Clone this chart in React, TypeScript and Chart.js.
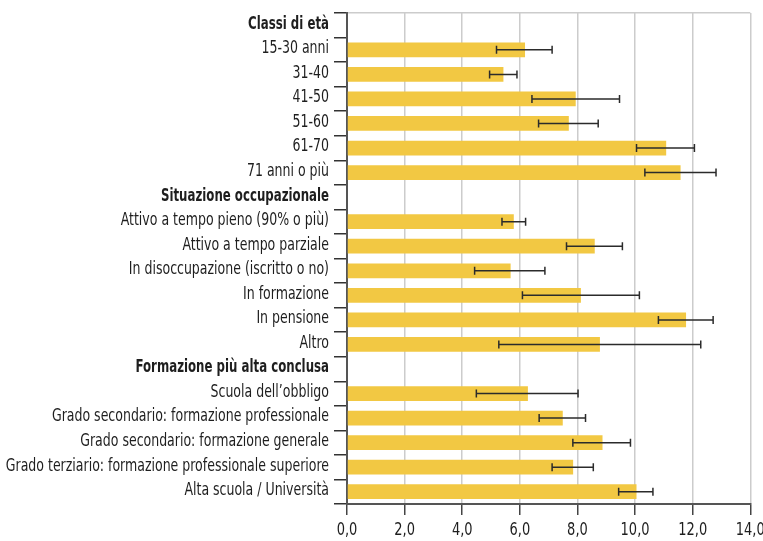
import React, { useEffect, useRef } from "react";
import { Chart, registerables } from "chart.js";

Chart.register(...registerables);

const categories: string[] = [
  "Classi di età",
  "15-30 anni",
  "31-40",
  "41-50",
  "51-60",
  "61-70",
  "71 anni o più",
  "Situazione occupazionale",
  "Attivo a tempo pieno (90% o più)",
  "Attivo a tempo parziale",
  "In disoccupazione (iscritto o no)",
  "In formazione",
  "In pensione",
  "Altro",
  "Formazione più alta conclusa",
  "Scuola dell’obbligo",
  "Grado secondario: formazione professionale",
  "Grado secondario: formazione generale",
  "Grado terziario: formazione professionale superiore",
  "Alta scuola / Università",
];

const headers: string[] = [
  "Classi di età",
  "Situazione occupazionale",
  "Formazione più alta conclusa",
];

const values: (number | null)[] = [
  null, 6.18, 5.43, 7.94, 7.70, 11.08, 11.58,
  null, 5.79, 8.60, 5.68, 8.12, 11.77, 8.78,
  null, 6.28, 7.49, 8.87, 7.85, 10.05,
];

const errLow: (number | null)[] = [
  null, 5.19, 4.95, 6.42, 6.65, 10.05, 10.34,
  null, 5.38, 7.62, 4.43, 6.09, 10.81, 5.27,
  null, 4.49, 6.67, 7.84, 7.12, 9.43,
];

const errHigh: (number | null)[] = [
  null, 7.12, 5.90, 9.46, 8.72, 12.06, 12.81,
  null, 6.20, 9.56, 6.87, 10.15, 12.71, 12.28,
  null, 8.02, 8.28, 9.84, 8.55, 10.62,
];

const xTicks: number[] = [0, 2, 4, 6, 8, 10, 12, 14];

const FONT = "'Liberation Sans Narrow', 'DejaVu Sans Condensed', 'Liberation Sans', sans-serif";

const fmt = (v: number) => v.toFixed(1).replace(".", ",");

const errorBarPlugin = {
  id: "errorBars",
  afterDatasetsDraw(chart: any) {
    const ctx = chart.ctx;
    const xs = chart.scales.x;
    const meta = chart.getDatasetMeta(0);
    ctx.save();
    ctx.strokeStyle = "#2b2b2b";
    ctx.lineWidth = 1.5;
    meta.data.forEach((bar: any, i: number) => {
      const lo = errLow[i];
      const hi = errHigh[i];
      if (lo == null || hi == null) return;
      const y = bar.y;
      const x1 = xs.getPixelForValue(lo);
      const x2 = xs.getPixelForValue(hi);
      const cap = 4;
      ctx.beginPath();
      ctx.moveTo(x1, y);
      ctx.lineTo(x2, y);
      ctx.moveTo(x1, y - cap);
      ctx.lineTo(x1, y + cap);
      ctx.moveTo(x2, y - cap);
      ctx.lineTo(x2, y + cap);
      ctx.stroke();
    });
    ctx.restore();
  },
};

// Condensed labels: the narrow face of the original is not installed,
// so the axis texts are drawn with a horizontal squeeze.
const narrowLabelsPlugin = {
  id: "narrowLabels",
  afterDraw(chart: any) {
    const ctx = chart.ctx;
    const ys = chart.scales.y;
    const xs = chart.scales.x;
    const area = chart.chartArea;
    ctx.save();
    ctx.fillStyle = "#1e1e1e";
    ctx.textBaseline = "middle";
    ctx.textAlign = "right";
    categories.forEach((label, i) => {
      const bold = headers.includes(label);
      ctx.font = `${bold ? "bold " : ""}17px ${FONT}`;
      const y = ys.getPixelForValue(i) - 1;
      ctx.save();
      ctx.translate(area.left - 18, y);
      ctx.scale(bold ? 0.77 : 0.82, 1);
      ctx.fillText(label, 0, 0);
      ctx.restore();
    });
    ctx.textAlign = "center";
    ctx.font = `17px ${FONT}`;
    xTicks.forEach((v) => {
      const x = xs.getPixelForValue(v);
      ctx.save();
      ctx.translate(x, 531);
      ctx.scale(0.85, 1);
      ctx.fillText(fmt(v), 0, 0);
      ctx.restore();
    });
    ctx.restore();
  },
};

export default function App() {
  const ref = useRef<HTMLCanvasElement | null>(null);

  useEffect(() => {
    document.body.style.margin = "0";
    if (!ref.current) return;
    const chart = new Chart(ref.current, {
      type: "bar",
      data: {
        labels: categories,
        datasets: [
          {
            data: values as any,
            backgroundColor: "#F2C843",
            borderWidth: 0,
            barPercentage: 0.6,
            categoryPercentage: 1.0,
          },
        ],
      },
      options: {
        indexAxis: "y",
        animation: false,
        responsive: false,
        maintainAspectRatio: false,
        layout: { padding: { top: 13, left: 0, right: 0, bottom: 0 } },
        plugins: {
          legend: { display: false },
          tooltip: { enabled: false },
        },
        scales: {
          x: {
            min: 0,
            max: 14,
            afterBuildTicks: (scale: any) => {
              scale.ticks = xTicks.map((v) => ({ value: v }));
            },
            afterFit: (scale: any) => {
              scale.height = 37;
              scale.paddingLeft = 0;
              scale.paddingRight = 12.7;
            },
            ticks: { display: false },
            grid: {
              color: "#cccccc",
              lineWidth: 1.5,
              tickColor: "#444",
              tickLength: 11,
            },
            border: { color: "#555", width: 2 },
          },
          y: {
            afterFit: (scale: any) => {
              scale.width = 347;
              scale.paddingTop = 0;
              scale.paddingBottom = 0;
            },
            ticks: { display: false },
            grid: {
              offset: true,
              drawOnChartArea: true,
              color: (c: any) => (c.index === 0 ? "#cccccc" : "rgba(0,0,0,0)"),
              lineWidth: 1.5,
              tickColor: "#333",
              tickLength: 13,
            },
            border: { color: "#555", width: 2 },
          },
        },
      },
      plugins: [errorBarPlugin, narrowLabelsPlugin],
    });
    return () => chart.destroy();
  }, []);

  return (
    <div style={{ width: 763, height: 541 }}>
      <canvas ref={ref} width={763} height={541} style={{ display: "block", width: 763, height: 541 }} />
    </div>
  );
}
